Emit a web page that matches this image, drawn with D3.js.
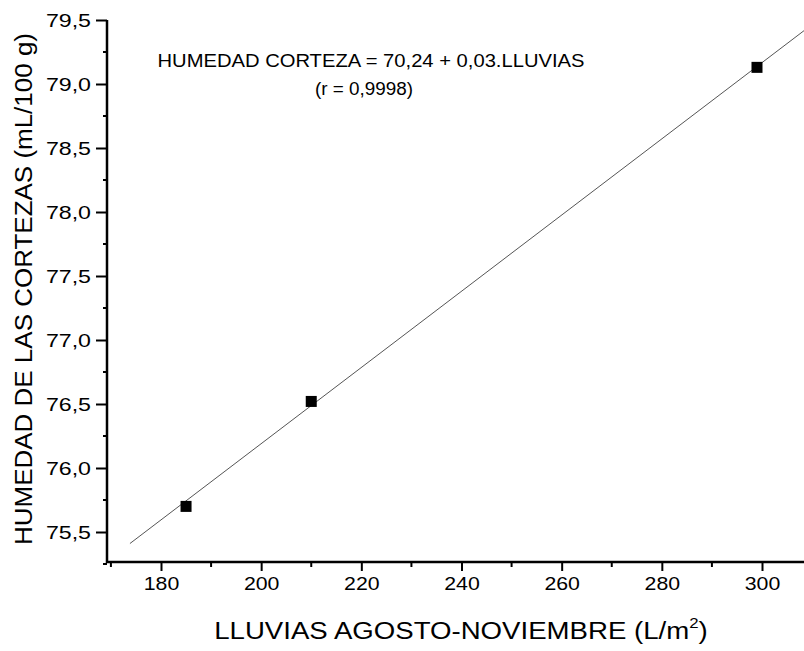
<!DOCTYPE html>
<html>
<head>
<meta charset="utf-8">
<script src="https://cdn.jsdelivr.net/npm/d3@7"></script>
<style>
  body { margin: 0; background: #fff; }
  text { font-family: "Liberation Sans", Arial, sans-serif; fill: #000; }
</style>
</head>
<body>
<div class="scatter-chart"></div>
<script>
// measured points
const lluvias = [185, 210, 299];
const humedad = [75.7, 76.52, 79.13];

// fitted line ends
const fitX = [173.8, 308.5];
const fitY = [75.41, 79.42];

const xTicks = [180, 200, 220, 240, 260, 280, 300];
const xMinor = [170, 190, 210, 230, 250, 270, 290, 310];
const yTicks = [75.5, 76.0, 76.5, 77.0, 77.5, 78.0, 78.5, 79.0, 79.5];
const yMinor = [75.25, 75.75, 76.25, 76.75, 77.25, 77.75, 78.25, 78.75, 79.25];

const eqLines = ["HUMEDAD CORTEZA = 70,24 + 0,03.LLUVIAS", "(r = 0,9998)"];

const W = 804, H = 651;
const fmt = d => d3.format(".1f")(d).replace(".", ",");

// the scanned lettering is wider than plain Arial
function stretch(sel, k) {
    sel.each(function() {
        const w = this.getComputedTextLength();
        d3.select(this)
          .attr("textLength", w * k)
          .attr("lengthAdjust", "spacingAndGlyphs");
    });
}

let svg = d3.select(".scatter-chart")
    .append("svg")
    .attr("width", W)
    .attr("height", H);

// axis frame: left edge 107, bottom 562
let xScale = d3.scaleLinear()
    .domain([180, 300])
    .range([161, 762]);
let yScale = d3.scaleLinear()
    .domain([75.5, 79.5])
    .range([532, 20]);

const x0 = xScale.invert(107);
const y0 = yScale.invert(562);
const bottom = yScale(y0), left = xScale(x0);

// x axis
let xAxis = d3.axisBottom(xScale)
    .tickValues(xTicks)
    .tickSize(9)
    .tickPadding(6)
    .tickFormat(d3.format("d"));
let xg = svg.append("g")
    .attr("transform", `translate(0,${bottom})`)
    .call(xAxis);
xg.select(".domain").remove();
xg.selectAll(".tick line").attr("stroke", "#000").attr("stroke-width", 2);
xg.selectAll(".tick text").attr("font-size", 19).attr("font-family", "Liberation Sans, Arial, sans-serif");
stretch(xg.selectAll(".tick text"), 1.12);

svg.append("g").selectAll("line")
    .data(xMinor.filter(d => xScale(d) > left + 1))
    .join("line")
    .attr("x1", d => xScale(d)).attr("x2", d => xScale(d))
    .attr("y1", bottom).attr("y2", bottom + 5)
    .attr("stroke", "#000").attr("stroke-width", 2);

// y axis
let yAxis = d3.axisLeft(yScale)
    .tickValues(yTicks)
    .tickSize(11)
    .tickPadding(5)
    .tickFormat(fmt);
let yg = svg.append("g")
    .attr("transform", `translate(${left},0)`)
    .call(yAxis);
yg.select(".domain").remove();
yg.selectAll(".tick line").attr("stroke", "#000").attr("stroke-width", 2);
yg.selectAll(".tick text").attr("font-size", 19).attr("font-family", "Liberation Sans, Arial, sans-serif");
stretch(yg.selectAll(".tick text"), 1.22);

svg.append("g").selectAll("line")
    .data(yMinor)
    .join("line")
    .attr("x1", left - 4).attr("x2", left)
    .attr("y1", d => yScale(d)).attr("y2", d => yScale(d))
    .attr("stroke", "#000").attr("stroke-width", 2);

// axis lines
svg.append("line")
    .attr("x1", left).attr("x2", left)
    .attr("y1", yScale(79.5)).attr("y2", bottom + 1)
    .attr("stroke", "#000").attr("stroke-width", 2.5);
svg.append("line")
    .attr("x1", left - 1).attr("x2", W + 10)
    .attr("y1", bottom).attr("y2", bottom)
    .attr("stroke", "#000").attr("stroke-width", 2.5);

// regression line
svg.append("path")
    .datum(fitX.map((d, i) => [d, fitY[i]]))
    .attr("d", d3.line().x(d => xScale(d[0])).y(d => yScale(d[1])))
    .attr("fill", "none")
    .attr("stroke", "#555")
    .attr("stroke-width", 1);

// points
const sz = 11;
svg.append("g").selectAll("rect")
    .data(lluvias.map((d, i) => ({x: d, y: humedad[i]})))
    .join("rect")
    .attr("x", d => xScale(d.x) - sz / 2)
    .attr("y", d => yScale(d.y) - sz / 2)
    .attr("width", sz).attr("height", sz)
    .attr("fill", "#000");

// equation
svg.append("text")
    .attr("x", 371).attr("y", 67)
    .attr("text-anchor", "middle")
    .attr("font-size", 18)
    .attr("textLength", 427)
    .attr("lengthAdjust", "spacingAndGlyphs")
    .text(eqLines[0]);
svg.append("text")
    .attr("x", 364).attr("y", 95)
    .attr("text-anchor", "middle")
    .attr("font-size", 18)
    .attr("textLength", 98)
    .attr("lengthAdjust", "spacingAndGlyphs")
    .text(eqLines[1]);

// axis titles
let xt = svg.append("text")
    .attr("x", 461).attr("y", 639)
    .attr("text-anchor", "middle")
    .attr("font-size", 23);
xt.append("tspan").text("LLUVIAS AGOSTO-NOVIEMBRE (L/m");
xt.append("tspan").attr("font-size", 14).attr("dy", -11).text("2");
xt.append("tspan").attr("dy", 11).text(")");
stretch(xt, 1.2);

let yt = svg.append("text")
    .attr("transform", "translate(32,289) rotate(-90)")
    .attr("text-anchor", "middle")
    .attr("font-size", 23)
    .attr("textLength", 512)
    .attr("lengthAdjust", "spacingAndGlyphs")
    .text("HUMEDAD DE LAS CORTEZAS (mL/100 g)");
</script>
</body>
</html>
